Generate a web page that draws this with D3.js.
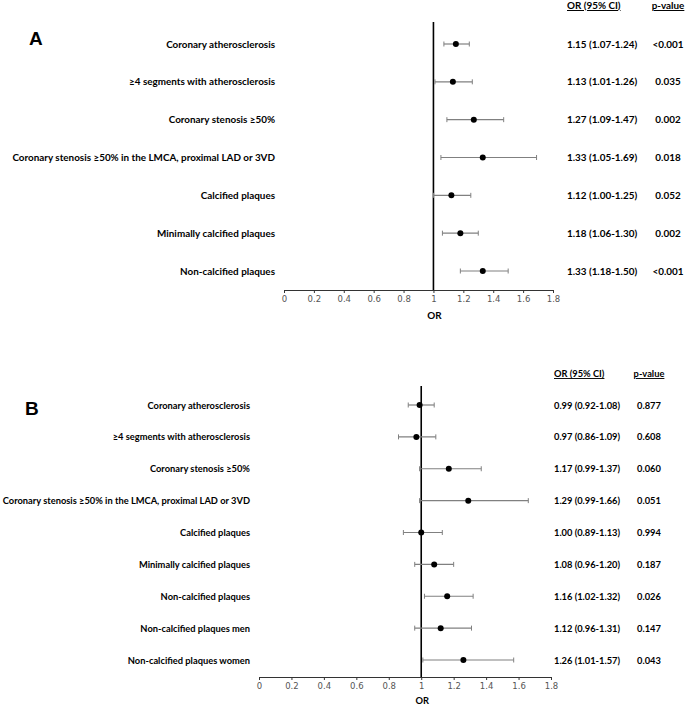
<!DOCTYPE html>
<html lang="en">
  <head>
    <meta charset="utf-8">
    <script src="https://d3js.org/d3.v7.min.js"></script>
    <title>Forest plot</title>
    <style>
      body { margin:0; background:#fff; }
      .lbl { font-family:Lato, sans-serif; font-weight:bold; fill:#000; }
      .tick text { font-family:"DejaVu Sans", sans-serif; font-size:8.5px; fill:#555; }
      .tick line, path.domain { stroke:#333; }
    </style>
  </head>
  <body>
    <script>

      // Panel A data
      var labelsA = ["Coronary atherosclerosis", "\u22654 segments with atherosclerosis", "Coronary stenosis \u226550%",
        "Coronary stenosis \u226550% in the LMCA, proximal LAD or 3VD", "Calcified plaques",
        "Minimally calcified plaques", "Non-calcified plaques"];
      var orA = [1.15, 1.13, 1.27, 1.33, 1.12, 1.18, 1.33];
      var loA = [1.07, 1.01, 1.09, 1.05, 1.00, 1.06, 1.18];
      var hiA = [1.24, 1.26, 1.47, 1.69, 1.25, 1.30, 1.50];
      var pA = ["<0.001", "0.035", "0.002", "0.018", "0.052", "0.002", "<0.001"];

      // Panel B data
      var labelsB = ["Coronary atherosclerosis", "\u22654 segments with atherosclerosis", "Coronary stenosis \u226550%",
        "Coronary stenosis \u226550% in the LMCA, proximal LAD or 3VD", "Calcified plaques",
        "Minimally calcified plaques", "Non-calcified plaques", "Non-calcified plaques men",
        "Non-calcified plaques women"];
      var orB = [0.99, 0.97, 1.17, 1.29, 1.00, 1.08, 1.16, 1.12, 1.26];
      var loB = [0.92, 0.86, 0.99, 0.99, 0.89, 0.96, 1.02, 0.96, 1.01];
      var hiB = [1.08, 1.09, 1.37, 1.66, 1.13, 1.20, 1.32, 1.31, 1.57];
      var pB = ["0.877", "0.608", "0.060", "0.051", "0.994", "0.187", "0.026", "0.147", "0.043"];

      var ticks = [0, 0.2, 0.4, 0.6, 0.8, 1, 1.2, 1.4, 1.6, 1.8];

      var svg = d3.select("body").append("svg").attr("width", 685).attr("height", 706);

      function fmt(v){ return v.toFixed(2); }

      function panel(p){
        var g = svg.append("g");
        var x = d3.scaleLinear().domain([0, 1.8]).range([p.x0, p.x1]);
        var y = d3.scalePoint().domain(d3.range(p.labels.length)).range([p.yTop, p.yBot]);

        // axis
        g.append("g").attr("transform", "translate(0," + p.axisY + ")")
          .call(d3.axisBottom(x).tickValues(ticks).tickSize(3).tickFormat(d3.format("")));

        g.append("text").attr("class", "lbl").attr("x", x(1) + 1).attr("y", p.axisY + p.orDy)
          .attr("text-anchor", "middle").style("font-size", p.fs + "px").text("OR");

        // reference line at 1
        g.append("line").attr("x1", x(1)).attr("x2", x(1)).attr("y1", p.lineTop).attr("y2", p.axisY)
          .attr("stroke", "#000").attr("stroke-width", 1.6);

        // panel letter
        g.append("text").attr("x", p.letterX).attr("y", p.letterY)
          .style("font-family", "Liberation Sans, Arial, sans-serif").style("font-weight", "bold")
          .style("font-size", "19px").text(p.letter);

        // headers
        g.append("text").attr("class", "lbl").attr("x", p.orX).attr("y", p.headY).style("font-size", p.fs + "px")
          .style("text-decoration", "underline").text("OR (95% CI)");
        g.append("text").attr("class", "lbl").attr("x", p.pX).attr("y", p.headY).style("font-size", p.fs + "px")
          .attr("text-anchor", "middle").style("text-decoration", "underline").text("p-value");

        var rows = g.selectAll("g.row").data(p.labels.map(function(d, i){
          return {label:d, or:p.or[i], lo:p.lo[i], hi:p.hi[i], p:p.p[i], i:i};
        })).enter().append("g").attr("class", "row");

        rows.append("text").attr("class", "lbl").style("font-size", p.fs + "px")
          .attr("x", p.labelX).attr("y", function(d){ return y(d.i) + 3.5; })
          .attr("text-anchor", "end").text(function(d){ return d.label; });

        rows.append("line").attr("x1", function(d){ return x(d.lo); }).attr("x2", function(d){ return x(d.hi); })
          .attr("y1", function(d){ return y(d.i); }).attr("y2", function(d){ return y(d.i); })
          .attr("stroke", "#808080").attr("stroke-width", 1.2);
        ["lo", "hi"].forEach(function(k){
          rows.append("line").attr("x1", function(d){ return x(d[k]); }).attr("x2", function(d){ return x(d[k]); })
            .attr("y1", function(d){ return y(d.i) - 2.5; }).attr("y2", function(d){ return y(d.i) + 2.5; })
            .attr("stroke", "#808080").attr("stroke-width", 1);
        });
        rows.append("circle").attr("cx", function(d){ return x(d.or); }).attr("cy", function(d){ return y(d.i); })
          .attr("r", 3).attr("fill", "#000");

        rows.append("text").attr("class", "lbl").style("font-size", p.fs + "px")
          .attr("x", p.orX).attr("y", function(d){ return y(d.i) + 3.5; })
          .text(function(d){ return fmt(d.or) + " (" + fmt(d.lo) + "-" + fmt(d.hi) + ")"; });
        rows.append("text").attr("class", "lbl").style("font-size", p.fs + "px")
          .attr("x", p.pX).attr("y", function(d){ return y(d.i) + 3.5; })
          .attr("text-anchor", "middle").text(function(d){ return d.p; });
      }

      panel({labels:labelsA, or:orA, lo:loA, hi:hiA, p:pA, letter:"A", fs:9.9,
        x0:284, x1:553, yTop:44, yBot:271, axisY:290, lineTop:22, orDy:29,
        labelX:275, orX:567, pX:668, headY:9, letterX:29, letterY:45});

      panel({labels:labelsB, or:orB, lo:loB, hi:hiB, p:pB, letter:"B", fs:9.3,
        x0:259, x1:551, yTop:405, yBot:660, axisY:677, lineTop:386, orDy:27,
        labelX:250, orX:554, pX:649, headY:377, letterX:25, letterY:415});

    </script>
  </body>
</html>
